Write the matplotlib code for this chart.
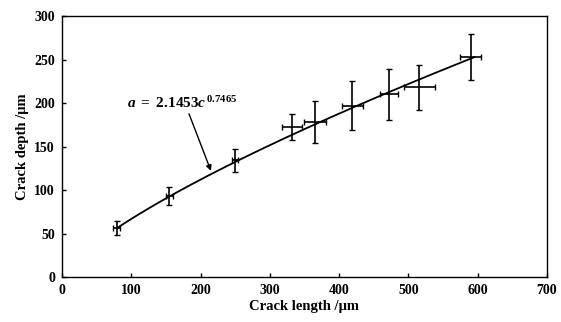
import numpy as np
import matplotlib
matplotlib.use("Agg")
import matplotlib.pyplot as plt

# Data
crack_length = [79, 155, 250, 332, 365, 419, 472, 516, 590]
crack_depth = [56, 93, 134, 172, 178, 197, 210, 218, 253]
depth_err = [8, 10, 13, 15, 24, 28, 29, 26, 26]
length_err = [5, 5, 4, 15, 16, 15, 13, 23, 15]

fit_coef = 2.1453
fit_exp = 0.7465
fit_range = [80, 595]

x_ticks = [0, 100, 200, 300, 400, 500, 600, 700]
y_ticks = [0, 50, 100, 150, 200, 250, 300]

plt.rcParams['font.family'] = ['Liberation Serif', 'DejaVu Serif']
plt.rcParams['mathtext.fontset'] = 'custom'
plt.rcParams['mathtext.rm'] = 'Liberation Serif:bold'
plt.rcParams['mathtext.it'] = 'Liberation Serif:italic:bold'
plt.rcParams['mathtext.bf'] = 'Liberation Serif:bold'

fig = plt.figure(figsize=(5.61, 3.22), dpi=100)
ax = fig.add_axes([0.1105, 0.1398, 0.8645, 0.8102])

cx = np.linspace(fit_range[0], fit_range[1], 200)
ax.plot(cx, fit_coef * cx ** fit_exp, color='black', lw=1.3)

ax.errorbar(crack_length, crack_depth, yerr=depth_err, xerr=length_err,
            fmt='none', ecolor='black', elinewidth=1.2, capsize=2, capthick=1.0)

ax.set_xlim(0, 700)
ax.set_ylim(0, 300)
ax.set_xticks(x_ticks)
ax.set_yticks(y_ticks)
ax.tick_params(direction='in', length=3, width=1, labelsize=10, pad=5)
for lab in ax.get_xticklabels() + ax.get_yticklabels():
    lab.set_fontweight('bold')
for s in ax.spines.values():
    s.set_linewidth(1.0)

ax.set_xlabel('Crack length /μm', fontsize=10.5, fontweight='bold', labelpad=2)
ax.set_ylabel('Crack depth /μm', fontsize=10.5, fontweight='bold', labelpad=4)

ax.annotate(r'$a\ =\ 2.1453c^{\,0.7465}$',
            xy=(215, 122), xytext=(94, 200),
            fontsize=11, va='center', ha='left',
            arrowprops=dict(arrowstyle='-|>', color='black', lw=1.0,
                            mutation_scale=8, shrinkA=0, shrinkB=0,
                            relpos=(0.55, 0.0)))

fig.savefig('out.png', dpi=100)
